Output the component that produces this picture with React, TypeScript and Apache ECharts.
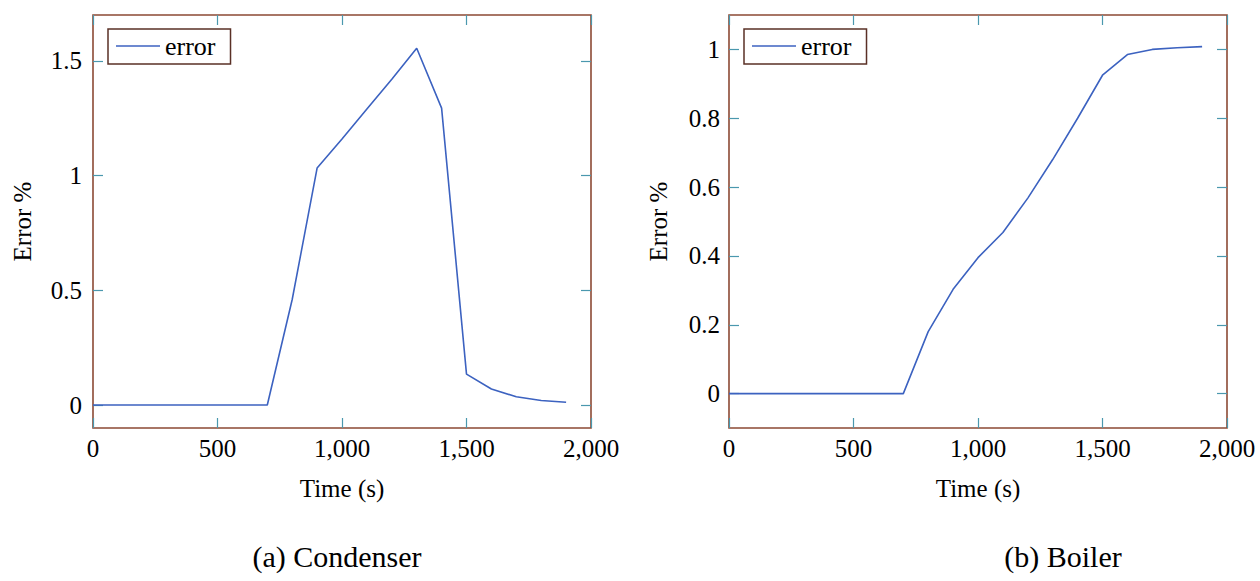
import React, { useEffect, useRef } from "react";
import * as echarts from "echarts";

const times = [0, 100, 200, 300, 400, 500, 600, 700, 800, 900, 1000, 1100, 1200, 1300, 1400, 1500, 1600, 1700, 1800, 1900];
const condenserError = [0, 0, 0, 0, 0, 0, 0, 0, 0.46, 1.033, 1.16, 1.29, 1.42, 1.555, 1.294, 0.135, 0.07, 0.036, 0.02, 0.012];
const boilerError = [0, 0, 0, 0, 0, 0, 0, 0, 0.18, 0.303, 0.395, 0.468, 0.568, 0.68, 0.8, 0.925, 0.985, 1.0, 1.005, 1.008];

const xTicks = [0, 500, 1000, 1500, 2000];
const condenserYTicks = [0, 0.5, 1, 1.5];
const boilerYTicks = [0, 0.2, 0.4, 0.6, 0.8, 1];

const seriesName = "error";
const xName = "Time (s)";
const yName = "Error %";
const captions = ["(a) Condenser", "(b) Boiler"];

const FONT = '"Liberation Serif", "Times New Roman", serif';
const FRAME = "#8c4a35";
const TICK = "#4a98ae";
const LINE = "#3c62c0";

export default function App() {
  const ref = useRef<HTMLDivElement>(null);

  useEffect(() => {
    if (!ref.current) return;
    const chart = echarts.init(ref.current, undefined, { renderer: "svg" });

    const grids = [
      { left: 93, top: 15, width: 498, height: 413 },
      { left: 729, top: 15, width: 498, height: 413 },
    ];
    const yRanges = [
      { min: -0.1, max: 1.7, ticks: condenserYTicks, margin: 11 },
      { min: -0.1, max: 1.1, ticks: boilerYTicks, margin: 9 },
    ];

    const tickStyle = (vals: number[]) => ({
      show: true,
      inside: true,
      length: 10,
      lineStyle: { color: TICK, width: 1.2 },
      customValues: vals,
    });

    const xAxis: any[] = [];
    const yAxis: any[] = [];
    grids.forEach((_, i) => {
      xAxis.push({
        type: "value",
        gridIndex: i,
        position: "bottom",
        min: 0,
        max: 2000,
        interval: 500,
        name: xName,
        nameLocation: "middle",
        nameGap: 48,
        nameTextStyle: { fontFamily: FONT, fontSize: 25, color: "#000" },
        axisLine: { show: false, onZero: false },
        axisTick: tickStyle(xTicks),
        axisLabel: {
          show: true,
          margin: 8,
          fontFamily: FONT,
          fontSize: 25,
          color: "#000",
          customValues: xTicks,
          hideOverlap: false,
          formatter: (v: number) => v.toLocaleString("en-US"),
        },
        splitLine: { show: false },
      });
      xAxis.push({
        type: "value",
        gridIndex: i,
        position: "top",
        min: 0,
        max: 2000,
        interval: 500,
        axisLine: { show: false, onZero: false },
        axisTick: tickStyle(xTicks),
        axisLabel: { show: false },
        splitLine: { show: false },
      });
      const yr = yRanges[i];
      yAxis.push({
        type: "value",
        gridIndex: i,
        position: "left",
        min: yr.min,
        max: yr.max,
        name: yName,
        nameLocation: "middle",
        nameGap: 58,
        nameRotate: 90,
        nameTextStyle: { fontFamily: FONT, fontSize: 25, color: "#000" },
        axisLine: { show: false, onZero: false },
        axisTick: tickStyle(yr.ticks),
        axisLabel: {
          show: true,
          margin: yr.margin,
          fontFamily: FONT,
          fontSize: 25,
          color: "#000",
          customValues: yr.ticks,
          formatter: (v: number) => String(Math.round(v * 10) / 10),
        },
        splitLine: { show: false },
      });
      yAxis.push({
        type: "value",
        gridIndex: i,
        position: "right",
        min: yr.min,
        max: yr.max,
        axisLine: { show: false, onZero: false },
        axisTick: tickStyle(yr.ticks),
        axisLabel: { show: false },
        splitLine: { show: false },
      });
    });

    const mk = (vals: number[], i: number) => ({
      name: seriesName,
      type: "line",
      xAxisIndex: i * 2,
      yAxisIndex: i * 2,
      data: times.map((t, k) => [t, vals[k]]),
      symbol: "none",
      lineStyle: { color: LINE, width: 1.6 },
      itemStyle: { color: LINE },
      z: 3,
    });

    const legendBase = {
      top: 29,
      orient: "vertical",
      padding: [4, 15, 5, 8],
      icon: "rect",
      itemWidth: 44,
      itemHeight: 1.6,
      borderColor: "#5a3026",
      borderWidth: 1.5,
      borderRadius: 0,
      backgroundColor: "#fff",
      textStyle: { fontFamily: FONT, fontSize: 26, color: "#000" },
      data: [seriesName],
      selectedMode: false,
    };

    chart.setOption({
      animation: false,
      backgroundColor: "#fff",
      grid: grids.map((g) => ({
        ...g,
        show: true,
        borderColor: FRAME,
        borderWidth: 1.6,
        backgroundColor: "transparent",
        containLabel: false,
      })),
      xAxis,
      yAxis,
      legend: [
        { ...legendBase, left: 108 },
        { ...legendBase, left: 744 },
      ],
      series: [mk(condenserError, 0), mk(boilerError, 1)],
      graphic: [
        {
          type: "text",
          x: 337,
          y: 556,
          style: { text: captions[0], font: `30px ${FONT}`, fill: "#000", textAlign: "center", textVerticalAlign: "middle" },
        },
        {
          type: "text",
          x: 1063,
          y: 556,
          style: { text: captions[1], font: `30px ${FONT}`, fill: "#000", textAlign: "center", textVerticalAlign: "middle" },
        },
      ],
    });

    return () => chart.dispose();
  }, []);

  return (
    <div
      ref={ref}
      style={{ position: "absolute", left: 0, top: 0, width: 1260, height: 581 }}
    />
  );
}
